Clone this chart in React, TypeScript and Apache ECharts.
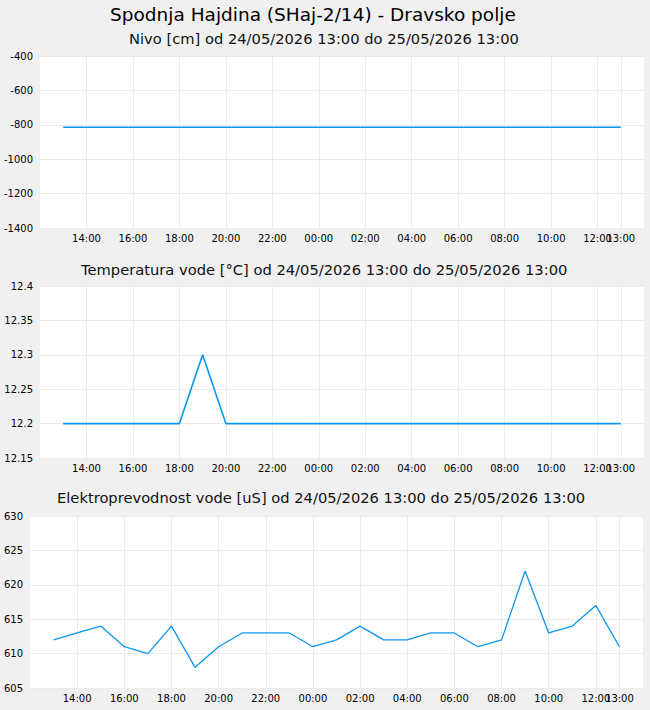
import React, { useEffect, useRef } from "react";
import * as echarts from "echarts";

const mainTitle = "Spodnja Hajdina (SHaj-2/14) - Dravsko polje";
const subTitles = [
  "Nivo [cm] od 24/05/2026 13:00 do 25/05/2026 13:00",
  "Temperatura vode [°C] od 24/05/2026 13:00 do 25/05/2026 13:00",
  "Elektroprevodnost vode [uS] od 24/05/2026 13:00 do 25/05/2026 13:00",
];

// hourly axis categories, 12:00 (day 1) to 14:00 (day 2)
const hours: string[] = [
  "12:00", "13:00", "14:00", "15:00", "16:00", "17:00", "18:00", "19:00", "20:00",
  "21:00", "22:00", "23:00", "00:00", "01:00", "02:00", "03:00", "04:00", "05:00",
  "06:00", "07:00", "08:00", "09:00", "10:00", "11:00", "12:00", "13:00", "14:00",
];
// indices of categories that carry a label and gridline
const labelledIdx = [2, 4, 6, 8, 10, 12, 14, 16, 18, 20, 22, 24];
const endIdx = 25; // final 13:00 label (drawn on its own axis, overlaps 12:00)

// measurements from 24/05 13:00 to 25/05 13:00 (25 hourly values)
const nivo = [
  -814, -814, -814, -814, -814, -814, -814, -814, -814, -814, -814, -814, -814,
  -814, -814, -814, -814, -814, -814, -814, -814, -814, -814, -814, -814,
];
const temperatura = [
  12.2, 12.2, 12.2, 12.2, 12.2, 12.2, 12.3, 12.2, 12.2, 12.2, 12.2, 12.2, 12.2,
  12.2, 12.2, 12.2, 12.2, 12.2, 12.2, 12.2, 12.2, 12.2, 12.2, 12.2, 12.2,
];
const prevodnost = [
  612, 613, 614, 611, 610, 614, 608, 611, 613, 613, 613, 611, 612,
  614, 612, 612, 613, 613, 611, 612, 622, 613, 614, 617, 611,
];

const yRanges = [
  { min: -1400, max: -400, interval: 200 },
  { min: 12.15, max: 12.4, interval: 0.05 },
  { min: 605, max: 630, interval: 5 },
];

const FONT = "DejaVu Sans";
const LINE = "#0a96ee";
const GRIDC = "#ebebeb";

function pad(vals: number[]) {
  return [null, ...vals, null];
}

export default function App() {
  const ref = useRef<HTMLDivElement>(null);
  useEffect(() => {
    document.body.style.margin = "0";
    const chart = echarts.init(ref.current!, null, { renderer: "svg" });
    const grids = [
      { left: 40, right: 6, top: 56, height: 172 },
      { left: 40, right: 6, top: 286, height: 172 },
      { left: 30, right: 7, top: 516, height: 172 },
    ];
    const titleTops = [30.5, 262, 490];
    const titleLefts = [129, 81, 57];
    const series = [nivo, temperatura, prevodnost];
    const labelStyle = { fontFamily: FONT, fontSize: 10, color: "#000", margin: 5 };
    const xAxes: any[] = [];
    grids.forEach((_, i) => {
      xAxes.push({
        type: "category",
        gridIndex: i,
        data: hours,
        boundaryGap: false,
        axisLine: { show: false },
        axisTick: { show: false },
        axisLabel: { ...labelStyle, interval: (idx: number) => labelledIdx.includes(idx) },
        splitLine: {
          show: true,
          interval: (idx: number) => labelledIdx.includes(idx) || idx === endIdx,
          lineStyle: { color: GRIDC, width: 1 },
        },
      });
    });
    grids.forEach((_, i) => {
      xAxes.push({
        type: "category",
        gridIndex: i,
        position: "bottom",
        data: hours,
        boundaryGap: false,
        axisLine: { show: false },
        axisTick: { show: false },
        axisLabel: { ...labelStyle, interval: (idx: number) => idx === endIdx },
        splitLine: { show: false },
      });
    });
    chart.setOption({
      animation: false,
      backgroundColor: "#f0f0f0",
      title: [
        {
          text: mainTitle,
          left: 110,
          top: 5,
          padding: 0,
          textStyle: { fontFamily: FONT, fontSize: 18.5, fontWeight: "normal", color: "#000" },
        },
        ...subTitles.map((t, i) => ({
          text: t,
          left: titleLefts[i],
          top: titleTops[i],
          padding: 0,
          textStyle: { fontFamily: FONT, fontSize: 14.7, fontWeight: "normal", color: "#111" },
        })),
      ],
      grid: grids.map((g) => ({ ...g, backgroundColor: "#fff", show: true, borderWidth: 0 })),
      xAxis: xAxes,
      yAxis: yRanges.map((r, i) => ({
        type: "value",
        gridIndex: i,
        min: r.min,
        max: r.max,
        interval: r.interval,
        axisLine: { show: false },
        axisTick: { show: false },
        axisLabel: {
          fontFamily: FONT,
          fontSize: 10,
          color: "#000",
          margin: 7,
          formatter: (v: number) => String(Math.round(v * 100) / 100),
        },
        splitLine: { show: true, lineStyle: { color: GRIDC, width: 1 } },
      })),
      series: series.map((vals, i) => ({
        type: "line",
        xAxisIndex: i,
        yAxisIndex: i,
        data: pad(vals),
        showSymbol: false,
        symbol: "none",
        lineStyle: { color: LINE, width: i === 2 ? 1.3 : 1.6 },
        itemStyle: { color: LINE },
      })),
    });
    return () => chart.dispose();
  }, []);
  return <div ref={ref} style={{ width: 650, height: 710 }} />;
}
